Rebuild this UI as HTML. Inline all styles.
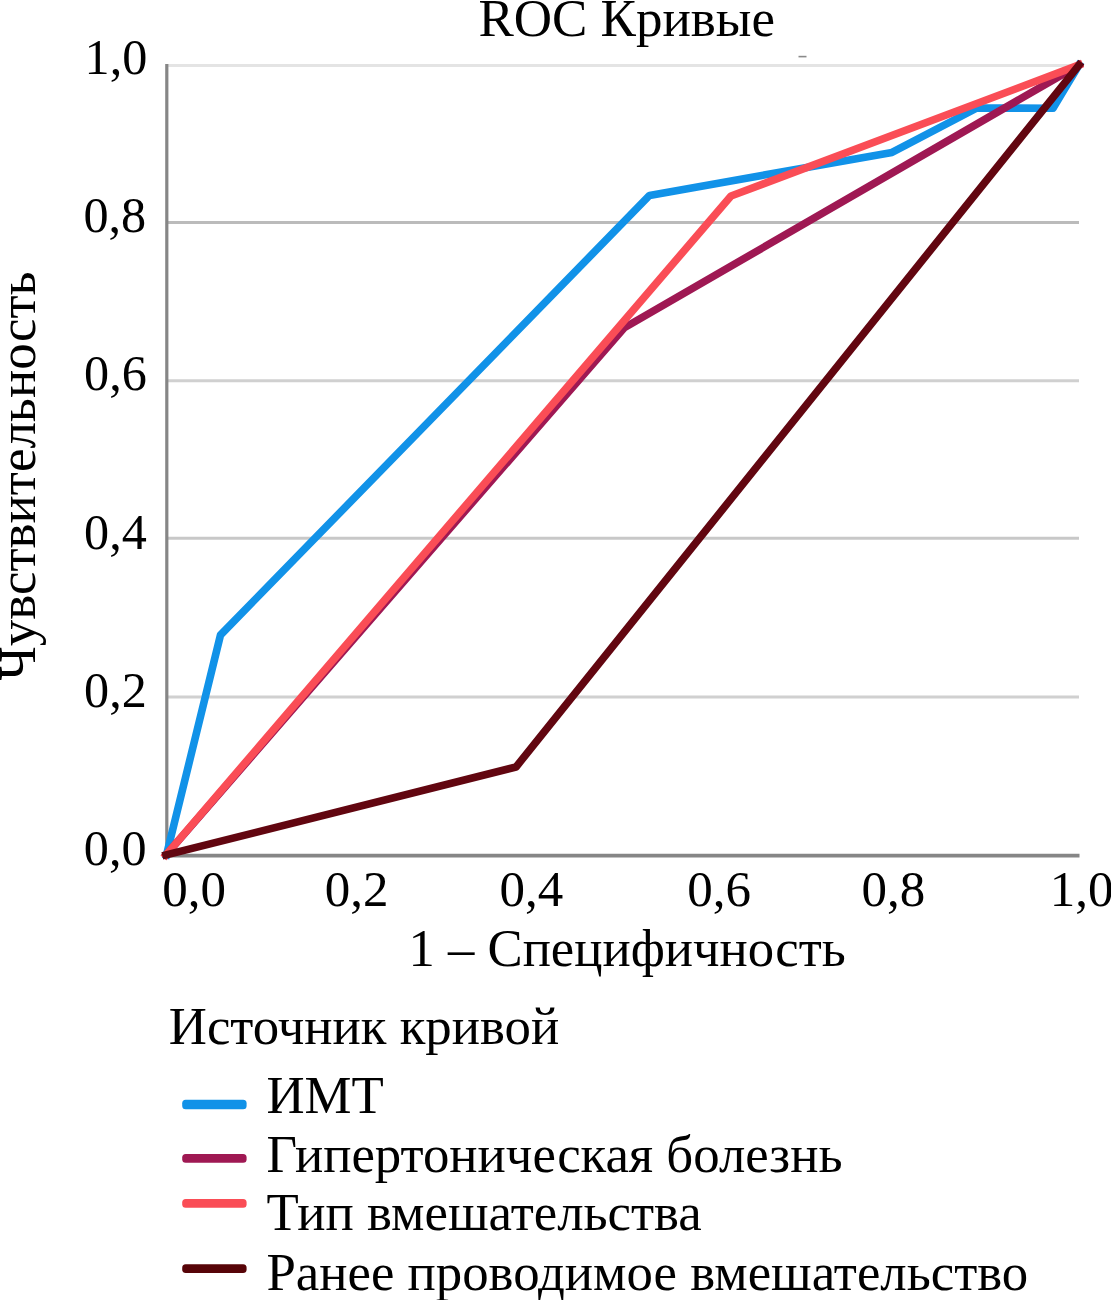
<!DOCTYPE html>
<html><head><meta charset="utf-8">
<style>
html,body{margin:0;padding:0;background:#fff;width:1111px;height:1300px;overflow:hidden}
svg{display:block}
text{font-family:"Liberation Serif",serif;fill:#000}
</style></head>
<body>
<svg width="1111" height="1300" viewBox="0 0 1111 1300">
<rect x="0" y="0" width="1111" height="1300" fill="#fff"/>
<!-- title -->
<text x="478.4" y="35.7" font-size="53">ROC Кривые</text>
<!-- gridlines -->
<g stroke-width="3" fill="none">
<line x1="166" y1="65.4" x2="1079" y2="65.4" stroke="#e4e4e4"/>
<line x1="166" y1="222.4" x2="1079" y2="222.4" stroke="#bbbbbb"/>
<line x1="166" y1="380.7" x2="1079" y2="380.7" stroke="#d0d0d0"/>
<line x1="166" y1="538.3" x2="1079" y2="538.3" stroke="#c8c8c8"/>
<line x1="166" y1="697.1" x2="1079" y2="697.1" stroke="#d0d0d0"/>
</g>
<!-- axes -->
<g stroke="#868686" fill="none">
<line x1="166.8" y1="64" x2="166.8" y2="857" stroke-width="3.2"/>
<line x1="165" y1="855.6" x2="1079.5" y2="855.6" stroke-width="3.6"/>
</g>
<line x1="798.5" y1="56.6" x2="806.5" y2="56.6" stroke="#8a8a8a" stroke-width="1.6"/>
<!-- y tick labels -->
<g font-size="51">
<text x="147.4" y="73.6" text-anchor="end" transform="translate(147.4 0) scale(0.985 1) translate(-147.4 0)">1,0</text>
<text x="146.2" y="231.7" text-anchor="end" transform="translate(146.2 0) scale(0.985 1) translate(-146.2 0)">0,8</text>
<text x="146.8" y="390.5" text-anchor="end" transform="translate(146.8 0) scale(0.985 1) translate(-146.8 0)">0,6</text>
<text x="146.8" y="548.8" text-anchor="end" transform="translate(146.8 0) scale(0.985 1) translate(-146.8 0)">0,4</text>
<text x="146.8" y="706.6" text-anchor="end" transform="translate(146.8 0) scale(0.985 1) translate(-146.8 0)">0,2</text>
<text x="146.6" y="865.5" text-anchor="end" transform="translate(146.6 0) scale(0.985 1) translate(-146.6 0)">0,0</text>
</g>
<!-- x tick labels -->
<g font-size="51">
<text x="194.2" y="906" text-anchor="middle" transform="translate(194.2 0) scale(1 1) translate(-194.2 0)">0,0</text>
<text x="356.5" y="906" text-anchor="middle" transform="translate(356.5 0) scale(1 1) translate(-356.5 0)">0,2</text>
<text x="531.3" y="906" text-anchor="middle" transform="translate(531.3 0) scale(1 1) translate(-531.3 0)">0,4</text>
<text x="719.0" y="906" text-anchor="middle" transform="translate(719.0 0) scale(1 1) translate(-719.0 0)">0,6</text>
<text x="893.4" y="906" text-anchor="middle" transform="translate(893.4 0) scale(1 1) translate(-893.4 0)">0,8</text>
<text x="1081.5" y="906" text-anchor="middle" transform="translate(1081.5 0) scale(1 1) translate(-1081.5 0)">1,0</text>
</g>
<!-- axis titles -->
<text x="408.5" y="965.5" font-size="52.7">1 – Специфичность</text>
<text transform="translate(34.9,680.5) rotate(-90)" x="0" y="0" font-size="52.9">Чувствительность</text>
<!-- curves -->
<g fill="none" stroke-width="7.6" stroke-linejoin="round" stroke-linecap="square">
<polyline stroke="#1192e8" points="166.5,855 220.5,635 649.5,195.4 892,152.4 977,108 1053,108.3 1079,65"/>
<polyline stroke="#9f1853" points="166,855 624.3,327.8 1079,65"/>
<polyline stroke="#fa4d56" points="166,855 731,196 1079,65"/>
<polyline stroke="#620610" points="166,855 516,767 1079,65"/>
</g>
<!-- legend -->
<text x="168.8" y="1044.3" font-size="52.8">Источник кривой</text>
<g font-size="52.8">
<text x="266.4" y="1112.7">ИМТ</text>
<text x="266.4" y="1172.3">Гипертоническая болезнь</text>
<text x="266.4" y="1230.1">Тип вмешательства</text>
<text x="266.4" y="1289.5">Ранее проводимое вмешательство</text>
</g>
<g>
<rect x="182.2" y="1099.7" width="64.4" height="9.6" rx="3.5" fill="#1192e8"/>
<rect x="182.2" y="1154.1" width="64.4" height="8.6" rx="3.5" fill="#9f1853"/>
<rect x="182.2" y="1199.1" width="64.4" height="8.6" rx="3.5" fill="#fa4d56"/>
<rect x="182.2" y="1264.3" width="64.4" height="8.6" rx="3.5" fill="#570408"/>
</g>
</svg>
</body></html>
